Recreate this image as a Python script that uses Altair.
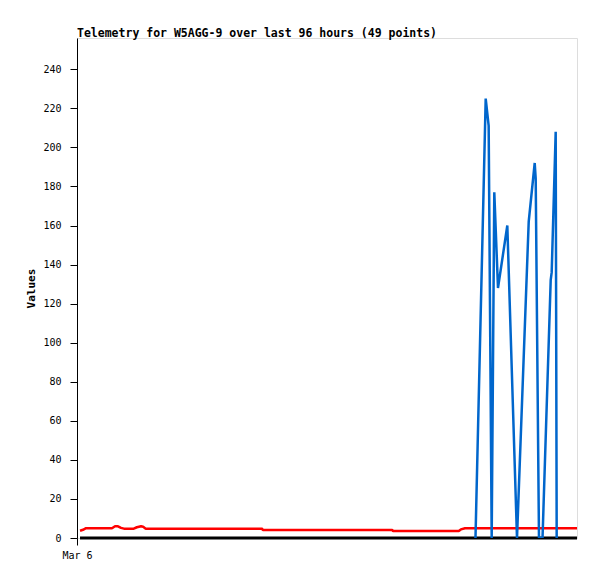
import altair as alt
import pandas as pd

# Hours since start of window (0..96)
zero_hours = [0.58, 96.0]
zero_values = [0, 0]

red_hours = [0.58, 1.15, 1.73, 6.72, 7.30, 7.87, 8.45, 9.02, 10.9, 11.5, 12.3, 12.7, 13.2,
             35.5, 35.7, 60.5, 60.7, 73.3, 73.7, 74.5, 96.0]
red_values = [3.7, 4.2, 5.0, 5.0, 6.0, 6.0, 5.2, 4.8, 4.8, 5.5, 6.0, 5.8, 4.8,
              4.8, 4.1, 4.1, 3.6, 3.6, 4.4, 5.0, 5.0]

blue_hours = [76.51, 78.47, 79.04, 79.62, 80.12, 80.83, 82.62, 84.48, 86.73, 87.88, 88.07,
              88.70, 89.38, 90.95, 91.14, 91.91, 92.10]
blue_values = [0, 225, 211, 0, 177, 128, 160, 0, 162, 192, 184,
               0, 0, 132, 136, 208, 0]

y_ticks = list(range(0, 241, 20))
x_tick = [0]
x_label = "Mar 6"
title_text = "Telemetry for W5AGG-9 over last 96 hours (49 points)"

FONT = "DejaVu Sans Mono"

xscale = alt.Scale(domain=[0, 96], nice=False, zero=False)
yscale = alt.Scale(domain=[0, 256], nice=False)

xenc = alt.X("h:Q", scale=xscale,
             axis=alt.Axis(values=x_tick, labelExpr=f"'{x_label}'", title=None, grid=False,
                           domain=False, tickSize=7, tickColor="black", labelFont=FONT,
                           labelFontSize=10, labelColor="black", labelPadding=5,
                           labelFlush=False))
yenc = alt.Y("v:Q", scale=yscale,
             axis=alt.Axis(values=y_ticks, title="Values", grid=False, tickSize=7,
                           tickColor="black", domainColor="black", labelFont=FONT,
                           labelFontSize=10, labelColor="black", labelPadding=9,
                           titleFont=FONT, titleFontSize=11, titleFontWeight="bold",
                           titleColor="black", titlePadding=6))

def layer(hours, values, color, width, clip):
    df = pd.DataFrame({"h": hours, "v": values})
    return alt.Chart(df).mark_line(color=color, strokeWidth=width, interpolate="linear",
                                   strokeJoin="bevel", clip=clip).encode(x=xenc, y=yenc)

chart = alt.layer(
    layer(zero_hours, zero_values, "#000000", 3, False),
    layer(red_hours, red_values, "#ff0000", 2.5, True),
    layer(blue_hours, blue_values, "#0066cc", 2.5, True),
).properties(
    width=500, height=500,
    title=alt.TitleParams(title_text, anchor="start", frame="group", font=FONT,
                          fontSize=11.5, fontWeight="bold", color="black", offset=0, dy=1),
    autosize=alt.AutoSizeParams(type="none"),
    padding={"left": 69, "top": 30, "right": 12, "bottom": 33},
).configure_view(stroke="#333333", strokeWidth=1).configure(background="white")

chart.save("out.html", embed_options={"renderer": "svg", "actions": False})
